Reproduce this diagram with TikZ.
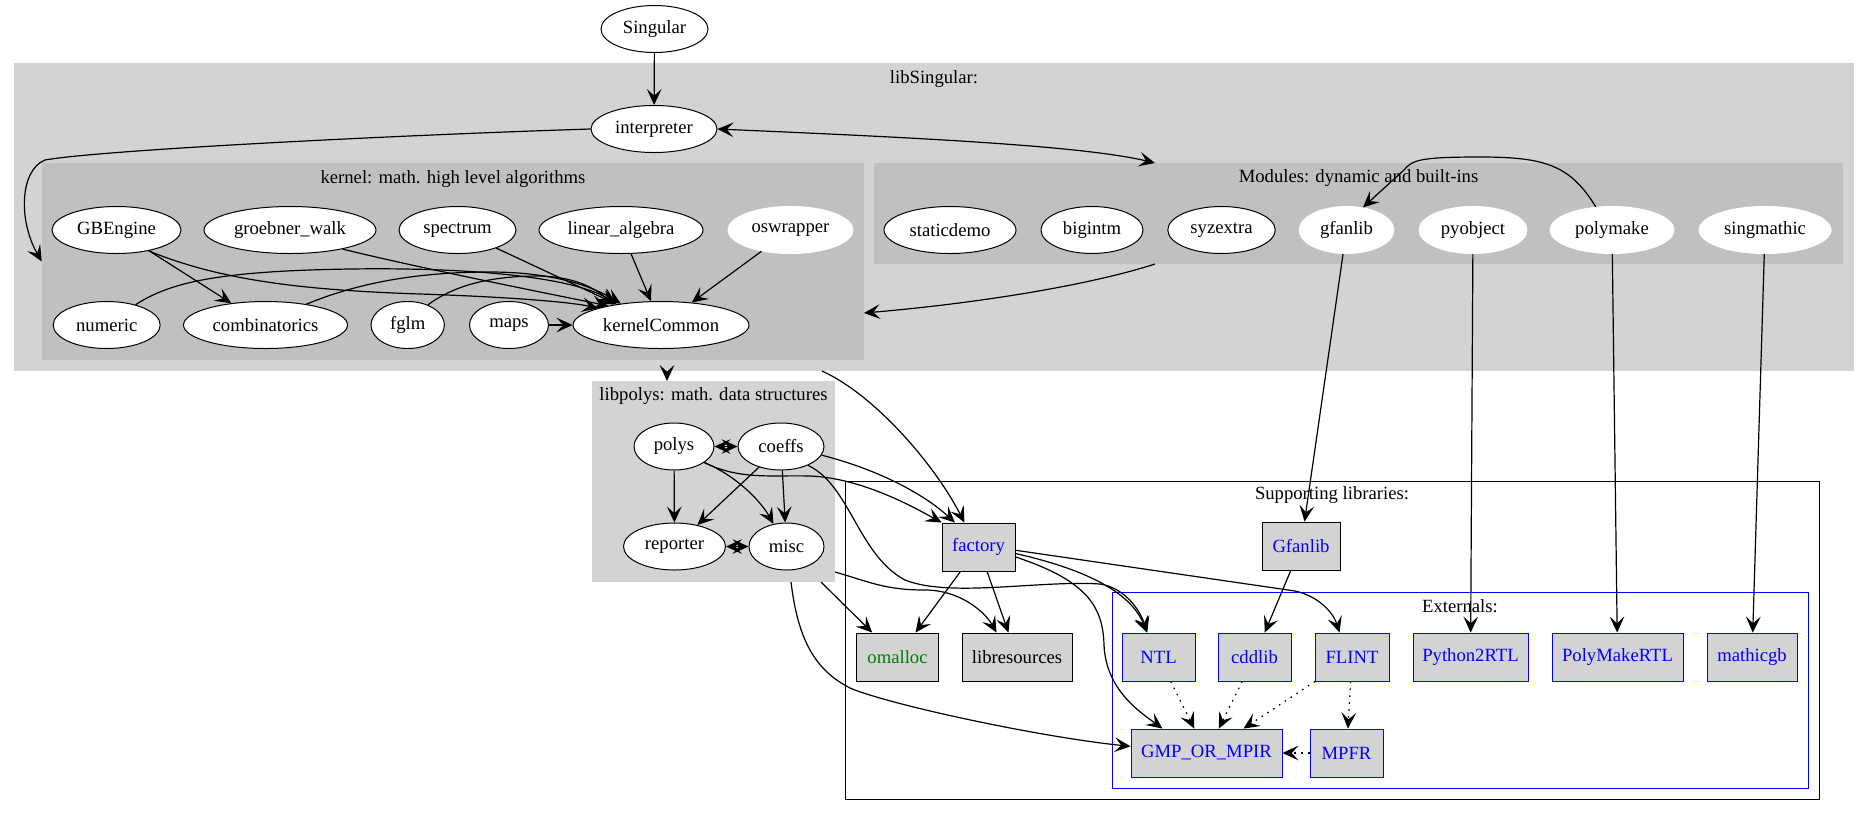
\documentclass[tikz,border=0pt]{standalone}
\usepackage{fontspec}
\setmainfont{Liberation Serif}
\usetikzlibrary{arrows.meta,shapes.geometric,fit}
\definecolor{sglight}{HTML}{D3D3D3}
\definecolor{sgdark}{HTML}{C0C0C0}
\definecolor{sggreen}{HTML}{008000}
\tikzset{
  sgcluster/.style={fill=sglight, draw=none, inner sep=0pt},
  sginner/.style={fill=sgdark, draw=none, inner sep=0pt},
  sgframe/.style={draw=black, line width=0.65pt, inner sep=0pt},
  sgextframe/.style={draw=blue, line width=0.75pt, inner sep=0pt},
  sgmod/.style={ellipse, draw=black, fill=white, line width=0.75pt, inner sep=0pt, minimum height=35.25pt, minimum width=1.5pt*#1},
  sgmodoff/.style={sgmod=#1, draw=white},
  sglib/.style={rectangle, draw=black, fill=sglight, line width=0.65pt, inner sep=0pt, minimum height=36pt, minimum width=1.5pt*#1},
  sgext/.style={sglib=#1, draw=blue, text=blue},
  sgedge/.style={draw=black, line width=0.9pt, -{Stealth[length=12pt,width=11pt,inset=5pt]}},
  sgboth/.style={sgedge, {Stealth[length=12pt,width=11pt,inset=5pt]}-{Stealth[length=12pt,width=11pt,inset=5pt]}},
  sgdot/.style={sgedge, dash pattern=on 1.2pt off 4pt},
}

\begin{document}
\begin{tikzpicture}[x=0.75pt, y=-0.75pt, font=\fontsize{14}{16}\selectfont]
\useasboundingbox (0,0) rectangle (1869,815);
% clusters
\node[sgcluster, fit={(14,63) (1854,371)}] (libsing) {};
\node[sginner, fit={(42,163) (864,360)}] (kernel) {};
\node[sginner, fit={(874,163) (1843,264)}] (modules) {};
\node[sgcluster, fit={(592,381) (835,582)}] (libpolys) {};
\node[sgframe, fit={(845,481) (1819,799)}] (support) {};
\node[sgextframe, fit={(1112,592) (1808,788)}] (externals) {};
\node (libsinglabel) at (934,79) {libSingular:};
\node (kernellabel) at (453,179) {kernel: math. high level algorithms};
\node (moduleslabel) at (1358.5,178) {Modules: dynamic and built-ins};
\node (libpolyslabel) at (713.5,396) {libpolys: math. data structures};
\node (supportlabel) at (1332,495) {Supporting libraries:};
\node (externalslabel) at (1460,606) {Externals:};
\coordinate (modtop) at (1155,163);
\coordinate (modbot) at (1155,264);
\coordinate (keast) at (864,313);
\coordinate (lsbot) at (667,371);
\coordinate (lptop) at (667,381);
\coordinate (lsfac) at (822,371);
\coordinate (lpbotom) at (821,582);
\coordinate (lpright) at (835,572);
\coordinate (lpbotgmp) at (791,582);
% nodes
\node[sgmod=53.5] (singular) at (654.5,29) {Singular};
\node[sgmod=63] (interp) at (654,129) {interpreter};
\node[sgmod=64.5] (gbengine) at (116.5,230) {GBEngine};
\node[sgmod=86] (gwalk) at (290,230) {groebner\_walk};
\node[sgmod=58.5] (spectrum) at (457.5,230) {spectrum};
\node[sgmod=82] (linalg) at (621,230) {linear\_algebra};
\node[sgmodoff=62.5] (oswrap) at (790.5,230) {oswrapper};
\node[sgmod=53.5] (numeric) at (106.7,325) {numeric};
\node[sgmod=82] (combin) at (265.5,325) {combinatorics};
\node[sgmod=36.7] (fglm) at (407.7,325) {fglm};
\node[sgmod=39.5] (maps) at (509,325) {maps};
\node[sgmod=88] (kcommon) at (661,325) {kernelCommon};
\node[sgmod=66] (staticdemo) at (950,230) {staticdemo};
\node[sgmod=51] (bigintm) at (1092,230) {bigintm};
\node[sgmod=53.7] (syzextra) at (1221.5,230) {syzextra};
\node[sgmodoff=47.3] (gfanlib) at (1346.5,230) {gfanlib};
\node[sgmodoff=54] (pyobject) at (1473,230) {pyobject};
\node[sgmodoff=62] (polymake) at (1612,230) {polymake};
\node[sgmodoff=66] (singmathic) at (1765,230) {singmathic};
\node[sgmod=40] (polys) at (674,446.5) {polys};
\node[sgmod=43] (coeffs) at (781,446.5) {coeffs};
\node[sgmod=51] (reporter) at (674.5,546.5) {reporter};
\node[sgmod=37.5] (misc) at (786.5,546.5) {misc};
\node[sglib=36.5, text=blue] (factory) at (978.5,547) {factory};
\node[sglib=39, text=blue] (gfanbox) at (1301,546) {Gfanlib};
\node[sglib=41, text=sggreen] (omalloc) at (897.5,657) {omalloc};
\node[sglib=55] (libres) at (1017,657) {libresources};
\node[sgext=36.5] (ntl) at (1158.5,657) {NTL};
\node[sgext=36.5] (cddlib) at (1254.5,657) {cddlib};
\node[sgext=37] (flint) at (1352,657) {FLINT};
\node[sgext=57.5] (pyrtl) at (1470.5,657) {Python2RTL};
\node[sgext=65.5] (pmrtl) at (1617.5,657) {PolyMakeRTL};
\node[sgext=45] (mathicgb) at (1752,657) {mathicgb};
\node[sgext=75.5] (gmp) at (1206.5,753) {GMP\_OR\_MPIR};
\node[sgext=36.5] (mpfr) at (1346.5,753) {MPFR};
% edges
\draw[sgedge] (singular) -- (interp);
\draw[sgedge] (interp.west) .. controls (400,135) and (100,150) .. (45,160) .. controls (20,170) and (18,220) .. (kernel.west);
\draw[sgboth] (interp.east) .. controls (900,137) and (1080,145) .. (modtop);
\draw[sgedge] (modbot) .. controls (1090,285) and (980,303) .. (keast);
\draw[sgedge] (lsbot) -- (lptop);
\draw[sgedge] (lsfac) .. controls (875,395) and (935,465) .. (factory.120);
\draw[sgedge] (gbengine) -- (combin);
\draw[sgedge] (gbengine.-33) .. controls (220,280) and (300,290) .. (420,294) .. controls (510,297) and (570,302) .. (kcommon.165);
\draw[sgedge] (gwalk.-20) .. controls (420,268) and (540,292) .. (kcommon.160);
\draw[sgedge] (spectrum) -- (kcommon);
\draw[sgedge] (linalg) -- (kcommon);
\draw[sgedge] (oswrap) -- (kcommon);
\draw[sgedge] (maps) -- (kcommon);
\draw[sgedge] (numeric.35) .. controls (170,282) and (220,271) .. (350,269) .. controls (490,267) and (580,280) .. (kcommon.155);
\draw[sgedge] (combin.27) .. controls (360,282) and (420,272) .. (490,272) .. controls (550,272) and (590,285) .. (kcommon.152);
\draw[sgedge] (fglm.45) .. controls (455,285) and (490,276) .. (540,276) .. controls (575,277) and (595,288) .. (kcommon.157);
\draw[sgedge] (polymake.125) .. controls (1570,165) and (1545,157) .. (1480,157) .. controls (1420,157) and (1412,160) .. (1404,170) -- (gfanlib.54);
\draw[sgboth] (polys) -- (coeffs);
\draw[sgboth] (reporter) -- (misc);
\draw[sgedge] (polys) -- (reporter);
\draw[sgedge] (polys.-28) .. controls (735,475) and (760,500) .. (misc.120);
\draw[sgedge] (coeffs) -- (reporter);
\draw[sgedge] (coeffs) -- (misc);
\draw[sgedge] (polys.-28) .. controls (740,480) and (770,475) .. (810,476) .. controls (860,478) and (910,505) .. (factory.north west);
\draw[sgedge] (coeffs.-12) .. controls (880,470) and (925,495) .. (factory.134);
\draw[sgedge] (coeffs.-35) .. controls (850,485) and (858,555) .. (905,580) .. controls (950,598) and (1040,580) .. (1100,584) .. controls (1125,588) and (1140,610) .. (ntl.115);
\draw[sgedge] (lpbotom) -- (omalloc.136);
\draw[sgedge] (lpright) .. controls (870,582) and (885,590) .. (925,590) .. controls (960,590) and (985,612) .. (libres.130);
\draw[sgedge] (lpbotgmp) .. controls (798,640) and (815,670) .. (850,688) .. controls (890,705) and (1040,737) .. (gmp.175);
\draw[sgedge] (factory) -- (omalloc);
\draw[sgedge] (factory) -- (libres);
\draw[sgedge] (factory.-10) .. controls (1080,568) and (1130,590) .. (ntl.115);
\draw[sgedge] (factory.-5) -- (1295,591) .. controls (1318,596) and (1333,612) .. (flint.117);
\draw[sgedge] (factory.-15) .. controls (1085,580) and (1103,605) .. (1104,645) .. controls (1106,690) and (1140,712) .. (gmp.151);
\draw[sgedge] (gfanlib) -- (gfanbox);
\draw[sgedge] (gfanbox) -- (cddlib);
\draw[sgedge] (pyobject) -- (pyrtl);
\draw[sgedge] (polymake) -- (pmrtl);
\draw[sgedge] (singmathic) -- (mathicgb);
\draw[sgdot] (ntl) -- (gmp);
\draw[sgdot] (cddlib) -- (gmp);
\draw[sgdot] (flint) -- (gmp);
\draw[sgdot] (flint) -- (mpfr);
\draw[sgdot] (mpfr) -- (gmp);
\end{tikzpicture}
\end{document}
